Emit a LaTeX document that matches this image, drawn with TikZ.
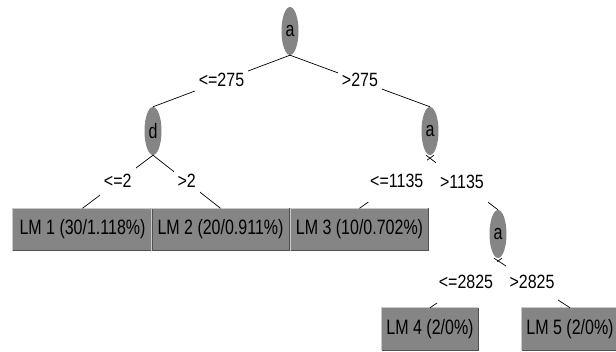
\documentclass[tikz,border=0pt]{standalone}
\usepackage{fontspec}
\setmainfont{Liberation Sans}
\usetikzlibrary{shapes.geometric}
\definecolor{boxgray}{RGB}{133,133,133}
\definecolor{bevellight}{RGB}{200,200,200}
\definecolor{beveldark}{RGB}{80,80,80}
\newcommand{\mystretchbox}[1]{\scalebox{1}[1.3]{#1}}
\newcommand{\mystretchlbl}[1]{\scalebox{1}[1.2]{#1}}
\begin{document}
\begin{tikzpicture}[x=1pt,y=-1pt,
  font=\fontsize{16}{18}\selectfont,
  split/.style={ellipse, fill=boxgray, minimum width=17pt, minimum height=48pt, inner sep=0pt},
  leaf/.style={rectangle, fill=boxgray, minimum height=42pt, inner sep=0pt},
  lbl/.style={midway, fill=white, inner xsep=4pt, inner ysep=0pt, minimum height=43pt, yshift=1pt},
  edge/.style={draw=black, line width=0.7pt}]
\fill[white] (0,0) rectangle (616,352);
\useasboundingbox (0,0) rectangle (616,352);
% split nodes
\node[split] (r)  at (290,31)  {\mystretchbox{a}};
\node[split] (d)  at (153,131) {\mystretchbox{d}};
\node[split] (a2) at (430,131) {\mystretchbox{a}};
\node[split] (a3) at (498,234) {\mystretchbox{a}};
% leaves
\node[leaf, minimum width=139pt] (lm1) at (82.5,229.5)  {\mystretchbox{LM 1 (30/1.118\%)}};
\node[leaf, minimum width=137pt] (lm2) at (220.5,229.5) {\mystretchbox{LM 2 (20/0.911\%)}};
\node[leaf, minimum width=137pt] (lm3) at (359.5,229.5) {\mystretchbox{LM 3 (10/0.702\%)}};
\node[leaf, minimum width=96pt]  (lm4) at (430,329)     {\mystretchbox{LM 4 (2/0\%)}};
\node[leaf, minimum width=96pt]  (lm5) at (570,329)     {\mystretchbox{LM 5 (2/0\%)}};
\foreach \n in {lm1,lm2,lm3,lm4,lm5}{
  \draw[bevellight, line width=1pt] (\n.south west) -- (\n.north west) -- (\n.north east);
  \draw[beveldark, line width=1pt] (\n.south west) -- (\n.south east) -- (\n.north east);
}
% edges
\draw[edge] (r.south) -- node[lbl]{\mystretchlbl{<=275}} (d.north);
\draw[edge] (r.south) -- node[lbl]{\mystretchlbl{>275}} (a2.north);
\draw[edge] (d.south) -- node[lbl]{\mystretchlbl{<=2}} (lm1.north);
\draw[edge] (d.south) -- node[lbl]{\mystretchlbl{>2}} (lm2.north);
\draw[edge] ([xshift=4pt]a2.south) -- node[lbl]{\mystretchlbl{<=1135}} (lm3.north);
\draw[edge] ([xshift=-4pt]a2.south) -- node[lbl]{\mystretchlbl{>1135}} (a3.north);
\draw[edge] ([xshift=4pt]a3.south) -- node[lbl]{\mystretchlbl{<=2825}} (lm4.north);
\draw[edge] ([xshift=-4pt]a3.south) -- node[lbl]{\mystretchlbl{>2825}} (lm5.north);
\end{tikzpicture}
\end{document}
